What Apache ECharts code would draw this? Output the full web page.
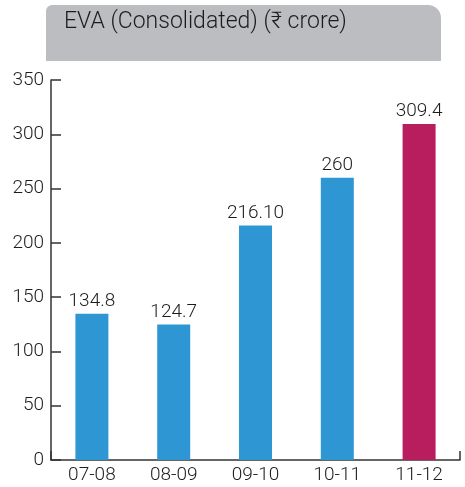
<!DOCTYPE html>
<html><head><meta charset="utf-8">
<script src="https://cdn.jsdelivr.net/npm/echarts@6/dist/echarts.min.js"></script>
<style>html,body{margin:0;padding:0;background:#fff}#c{width:465px;height:487px}</style>
</head><body><div id="c"></div>
<script>
const categories = ['07-08','08-09','09-10','10-11','11-12'];
const values = [134.8, 124.7, 216.1, 260, 309.4];
const valueLabels = ['134.8','124.7','216.10','260','309.4'];
const barColors = ['#2f96d4','#2f96d4','#2f96d4','#2f96d4','#b81e5e'];
const yTicks = [0,50,100,150,200,250,300,350];

const FONT = 'Roboto, "Liberation Sans", sans-serif';
const chart = echarts.init(document.getElementById('c'));
chart.setOption({
  animation:false,
  backgroundColor:'#fff',
  graphic:[{
    type:'rect', left:46, top:5, z:-1,
    shape:{width:395, height:56, r:[6,13,0,0]},
    style:{fill:'#bcbdc0'}
  }],
  title:{
    text:'EVA (Consolidated) (₹ crore)', left:59, top:6,
    textStyle:{fontFamily:FONT, fontSize:23, fontWeight:300, color:'#1e1b1c'}
  },
  grid:{left:51, right:5, top:80, bottom:27, containLabel:false},
  xAxis:{
    type:'category', data:categories,
    axisLine:{lineStyle:{color:'#333', width:1.5}},
    axisTick:{show:true, inside:true, length:9, interval:function(i){return i===categories.length-1;}, lineStyle:{color:'#333', width:1.5}},
    axisLabel:{fontFamily:FONT, fontSize:19, fontWeight:300, color:'#1e1b1c', margin:6}
  },
  yAxis:{
    type:'value', min:0, max:350, interval:50,
    axisLine:{show:true, lineStyle:{color:'#333', width:1.5}},
    axisTick:{show:true, inside:true, length:10, lineStyle:{color:'#333', width:1.5}},
    splitLine:{show:false},
    axisLabel:{fontFamily:FONT, fontSize:19, fontWeight:300, color:'#1e1b1c', margin:7,
      formatter:function(v){return yTicks.indexOf(v)>=0?String(v):'';}}
  },
  series:[{
    type:'bar', barWidth:33,
    data:values.map((v,i)=>({value:v, itemStyle:{color:barColors[i]}})),
    label:{show:true, position:'top', distance:3, fontFamily:FONT, fontSize:19, fontWeight:300, color:'#1e1b1c',
      formatter:function(p){return valueLabels[p.dataIndex];}}
  }]
});
</script></body></html>
